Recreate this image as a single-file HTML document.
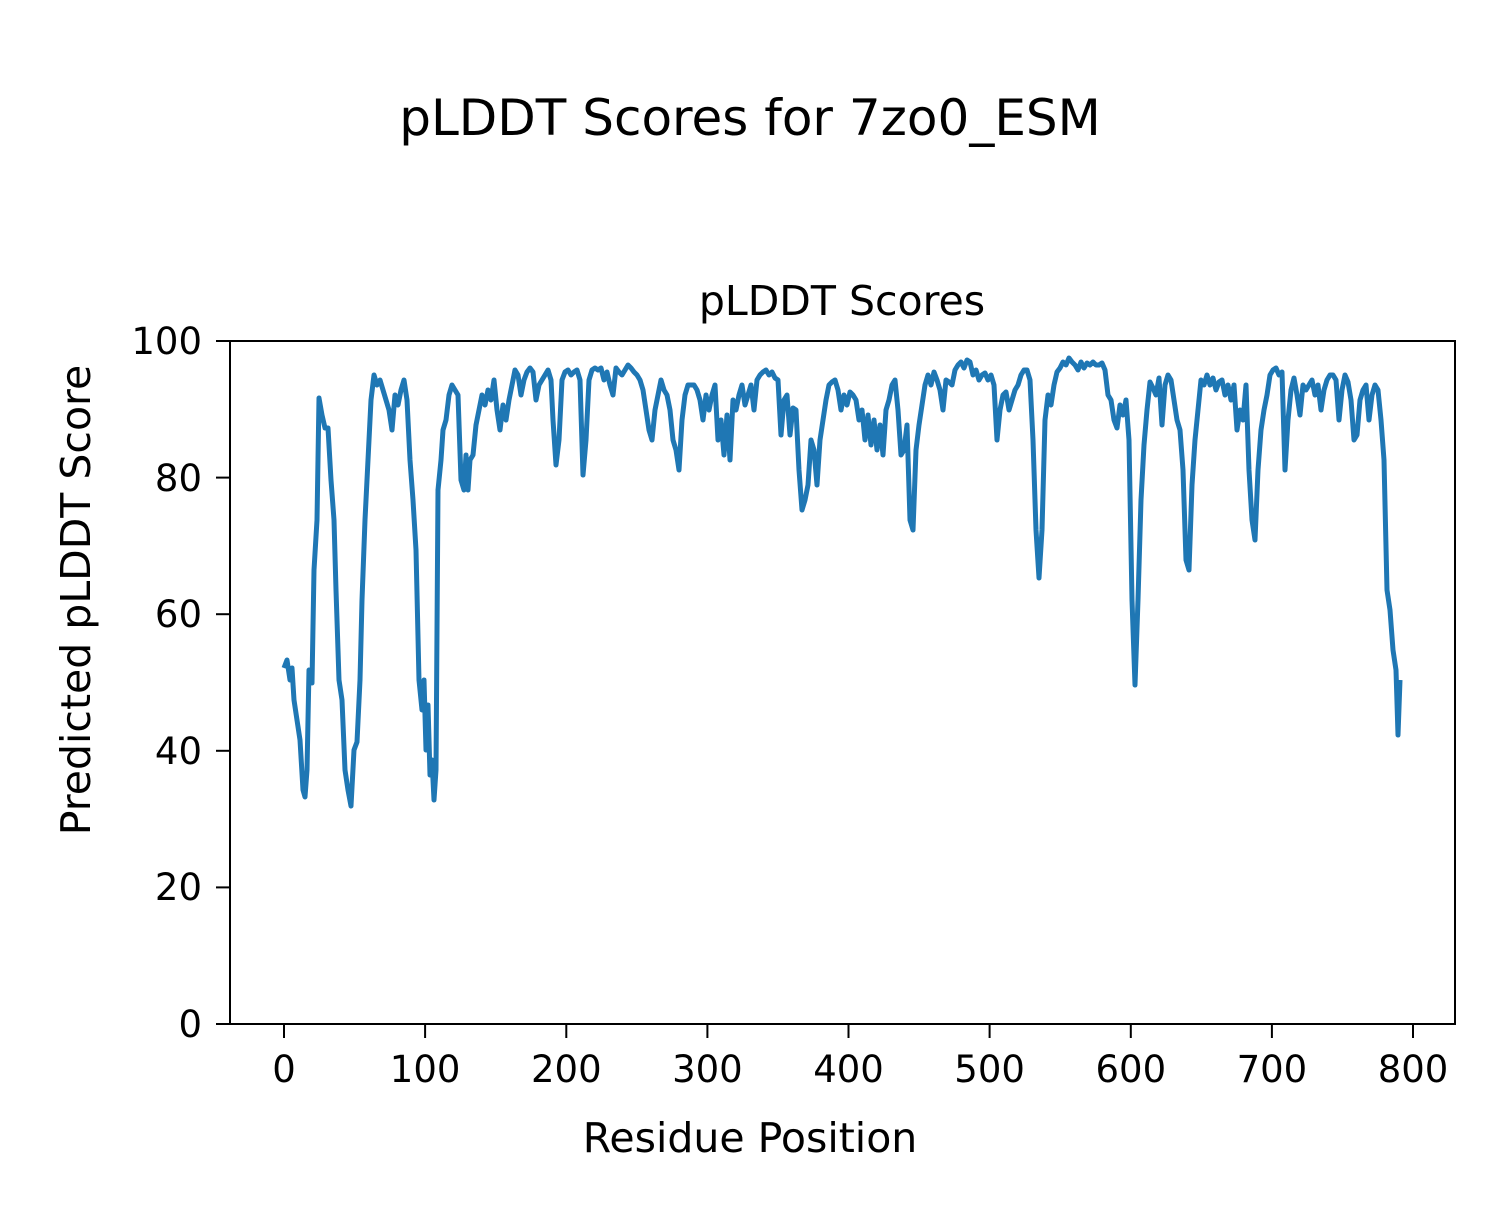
<!DOCTYPE html>
<html><head><meta charset="utf-8"><style>
body{margin:0;background:#fff;}
svg text{font-family:"DejaVu Sans","Liberation Sans",sans-serif;fill:#000;}
</style></head><body>
<svg width="1500" height="1200" viewBox="0 0 1500 1200" xmlns="http://www.w3.org/2000/svg">
<rect width="1500" height="1200" fill="#fff"/>
<text x="750" y="135" font-size="50" text-anchor="middle">pLDDT Scores for 7zo0_ESM</text>
<text x="842" y="315" font-size="41" text-anchor="middle">pLDDT Scores</text>
<polyline fill="none" stroke="#1f77b4" stroke-width="5" stroke-linejoin="round" points="284,668 287,660 290,680 292,668 294,700 297,720 300,740 303,790 305,797 307,770 309,670 312,683 314,570 317,520 319,398 322,415 325,428 328,428 331,480 334,520 336,590 339,680 342,700 345,770 348,790 351,806 354,750 357,742 360,680 362,600 365,520 368,460 371,400 374,375 377,385 380,380 383,390 386,400 389,410 392,430 395,395 398,405 401,390 404,380 407,400 410,460 413,500 416,550 419,680 422,710 424,680 426,750 428,705 430,775 432,760 434,800 436,770 438,490 441,460 443,430 446,420 449,395 452,385 455,390 458,395 461,480 464,490 466,455 468,490 470,460 473,455 476,425 479,410 482,395 485,405 488,390 491,400 494,380 497,410 500,430 503,405 506,420 509,400 512,385 515,370 518,375 521,395 524,380 527,372 530,368 533,372 536,400 539,385 542,380 545,375 548,370 551,380 553,420 556,465 559,440 562,380 565,372 568,370 571,375 574,372 577,370 580,380 583,475 586,440 589,380 592,370 595,368 598,370 601,368 604,380 607,372 610,385 613,395 616,368 619,372 622,375 625,370 628,365 631,368 634,372 637,375 640,380 643,390 646,410 649,430 652,440 655,410 658,395 661,380 664,390 667,395 670,410 673,440 676,450 679,470 682,420 685,395 688,385 691,385 694,385 697,390 700,400 703,420 706,395 709,410 712,395 715,385 718,440 721,420 724,455 727,415 730,460 733,400 736,410 739,395 742,385 745,405 748,395 751,385 754,410 757,380 760,375 763,372 766,370 769,375 772,372 775,378 778,380 781,435 784,400 787,395 790,435 793,408 796,410 799,470 802,510 805,500 808,485 811,440 814,450 817,485 820,440 823,420 826,400 829,385 832,382 835,380 838,390 841,410 844,395 847,405 850,392 853,395 856,400 859,420 862,410 865,440 868,415 871,445 874,420 877,450 880,425 883,455 886,410 889,400 892,385 895,380 898,410 901,455 904,450 907,425 910,520 913,530 916,450 919,425 922,405 925,385 928,375 931,385 934,372 937,380 940,390 943,410 946,380 949,382 952,385 955,370 958,365 961,362 964,368 967,360 970,362 973,375 976,370 979,380 982,375 985,373 988,380 991,375 994,385 997,440 1000,410 1003,395 1006,392 1009,410 1012,400 1015,390 1018,385 1021,375 1024,370 1027,370 1030,380 1033,440 1036,530 1039,578 1042,530 1045,420 1048,395 1051,405 1054,385 1057,372 1060,368 1063,362 1066,365 1069,358 1072,362 1075,365 1078,370 1081,362 1084,368 1087,363 1090,365 1093,362 1096,365 1099,365 1102,363 1105,370 1108,395 1111,400 1114,420 1117,428 1120,405 1123,415 1126,400 1129,440 1132,600 1135,685 1138,600 1141,500 1144,445 1147,410 1150,382 1153,388 1156,395 1159,378 1162,425 1165,385 1168,375 1171,380 1174,400 1177,420 1180,430 1183,470 1186,560 1189,570 1192,485 1195,440 1198,410 1201,380 1204,385 1207,375 1210,385 1213,378 1216,390 1219,382 1222,380 1225,395 1228,385 1231,400 1234,385 1237,430 1240,410 1243,420 1246,385 1249,470 1252,520 1255,540 1258,470 1261,430 1264,410 1267,395 1270,375 1273,370 1276,368 1279,375 1282,372 1285,470 1288,420 1291,390 1294,378 1297,395 1300,415 1303,385 1306,390 1309,385 1312,380 1315,395 1318,385 1321,410 1324,390 1327,380 1330,375 1333,375 1336,380 1339,420 1342,390 1345,375 1348,382 1351,400 1354,440 1357,435 1360,400 1363,390 1366,385 1369,420 1372,395 1375,385 1378,390 1381,420 1384,460 1387,590 1390,610 1393,650 1396,670 1398,735 1400,680"/>
<rect x="230" y="341" width="1225" height="683" fill="none" stroke="#000" stroke-width="2"/>
<g stroke="#000" stroke-width="2">
<line x1="284" y1="1024" x2="284" y2="1038"/><line x1="425.1" y1="1024" x2="425.1" y2="1038"/><line x1="566.3" y1="1024" x2="566.3" y2="1038"/><line x1="707.4" y1="1024" x2="707.4" y2="1038"/><line x1="848.5" y1="1024" x2="848.5" y2="1038"/><line x1="989.6" y1="1024" x2="989.6" y2="1038"/><line x1="1130.8" y1="1024" x2="1130.8" y2="1038"/><line x1="1271.9" y1="1024" x2="1271.9" y2="1038"/><line x1="1413" y1="1024" x2="1413" y2="1038"/>
<line x1="216" y1="1024" x2="230" y2="1024"/><line x1="216" y1="887.4" x2="230" y2="887.4"/><line x1="216" y1="750.8" x2="230" y2="750.8"/><line x1="216" y1="614.2" x2="230" y2="614.2"/><line x1="216" y1="477.6" x2="230" y2="477.6"/><line x1="216" y1="341" x2="230" y2="341"/>
</g>
<g font-size="37" text-anchor="middle">
<text x="284" y="1082">0</text><text x="425.1" y="1082">100</text><text x="566.3" y="1082">200</text><text x="707.4" y="1082">300</text><text x="848.5" y="1082">400</text><text x="989.6" y="1082">500</text><text x="1130.8" y="1082">600</text><text x="1271.9" y="1082">700</text><text x="1413" y="1082">800</text>
</g>
<g font-size="37" text-anchor="end">
<text x="202" y="1037">0</text><text x="202" y="900">20</text><text x="202" y="764">40</text><text x="202" y="627">60</text><text x="202" y="491">80</text><text x="202" y="354">100</text>
</g>
<text x="750" y="1152" font-size="41" text-anchor="middle">Residue Position</text>
<text transform="translate(90,600) rotate(-90)" font-size="41" text-anchor="middle">Predicted pLDDT Score</text>
</svg>
</body></html>
